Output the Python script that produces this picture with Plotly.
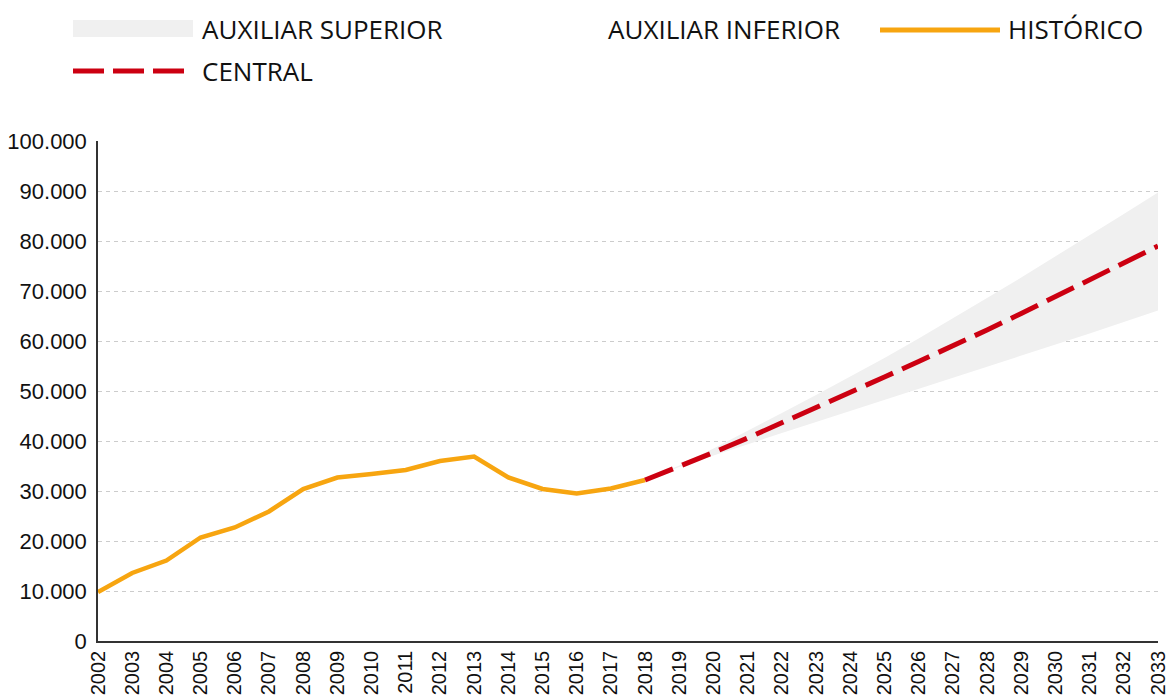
import plotly.graph_objects as go

years_hist = list(range(2002, 2019))
historico = [9800, 13600, 16100, 20700, 22700, 25900, 30400, 32700, 33400, 34200,
             36000, 36900, 32700, 30400, 29500, 30500, 32200]

years_proj = list(range(2018, 2034))
central = [32200, 34900, 37700, 40600, 43600, 46600, 49700, 52800, 55900, 59000,
           62200, 65500, 68900, 72200, 75600, 79000]
aux_superior = [32200, 35100, 38500, 42000, 45600, 49200, 52900, 56600, 60500, 64500,
                68600, 72700, 76900, 81100, 85400, 89700]
aux_inferior = [32200, 34800, 37100, 39400, 41600, 43800, 46000, 48200, 50400, 52600,
                54800, 57000, 59300, 61500, 63800, 66100]

y_ticks = list(range(0, 100001, 10000))
x_ticks = list(range(2002, 2034))

ORANGE = "#F7A510"
RED = "#CC0011"
BAND = "#F0F0F0"

fig = go.Figure()
fig.add_trace(go.Scatter(x=years_proj, y=aux_inferior, mode="lines", name="AUXILIAR INFERIOR",
                         line=dict(width=0, color=BAND), hoverinfo="skip"))
fig.add_trace(go.Scatter(x=years_proj, y=aux_superior, mode="lines", name="AUXILIAR SUPERIOR",
                         line=dict(width=0, color=BAND), fill="tonexty", fillcolor=BAND))
fig.add_trace(go.Scatter(x=years_hist, y=historico, mode="lines", name="HISTÓRICO",
                         line=dict(width=4.5, color=ORANGE)))
fig.add_trace(go.Scatter(x=years_proj, y=central, mode="lines", name="CENTRAL",
                         line=dict(width=5, color=RED, dash="30px,10px")))

W, H = 1168, 695
L, R, T, B = 98, 10, 141, 54
pw, ph = W - L - R, H - T - B


def px(x):
    return (x - L) / pw


def py(y):
    return (H - B - y) / ph


LEG_FONT = dict(family="Open Sans", size=26, color="#111111")
shapes = [
    dict(type="rect", xref="paper", yref="paper", x0=px(73), x1=px(193), y0=py(37), y1=py(20),
         fillcolor=BAND, line=dict(width=0)),
    dict(type="line", xref="paper", yref="paper", x0=px(880), x1=px(1000), y0=py(30), y1=py(30),
         line=dict(color=ORANGE, width=5)),
    dict(type="line", xref="paper", yref="paper", x0=px(73), x1=px(193), y0=py(71), y1=py(71),
         line=dict(color=RED, width=5, dash="31px,9px")),
]
annotations = [
    dict(text="AUXILIAR SUPERIOR", x=px(200), y=py(29)),
    dict(text="AUXILIAR INFERIOR", x=px(606), y=py(29)),
    dict(text="HISTÓRICO", x=px(1006), y=py(29)),
    dict(text="CENTRAL", x=px(200), y=py(71)),
]
for a in annotations:
    a.update(xref="paper", yref="paper", xanchor="left", yanchor="middle", showarrow=False,
             font=LEG_FONT)

fig.update_layout(
    width=W, height=H,
    margin=dict(l=L, r=R, t=T, b=B),
    plot_bgcolor="white", paper_bgcolor="white",
    showlegend=False,
    separators=",.",
    shapes=shapes,
    annotations=annotations,
    font=dict(family="Liberation Sans", size=22, color="#111111"),
)
fig.update_xaxes(
    range=[2002, 2033], tickmode="array", tickvals=x_ticks, ticktext=[str(v) for v in x_ticks],
    tickangle=-90, showgrid=False, zeroline=False, showline=True, linecolor="#333333",
    linewidth=1.5, ticks="", tickfont=dict(size=20), automargin=False,
    ticklabeloverflow="allow",
)
fig.update_yaxes(
    range=[0, 100000], tickmode="array", tickvals=y_ticks, tickformat=",d",
    showgrid=True, gridcolor="#CCCCCC", griddash="4px,4px", gridwidth=1,
    zeroline=False, showline=True, linecolor="#333333", linewidth=1.5,
    ticks="outside", ticklen=5, tickcolor="rgba(0,0,0,0)", tickfont=dict(size=22),
    automargin=False, ticklabeloverflow="allow",
)

fig.write_html(
    "out.html",
    config={"displayModeBar": False},
    post_script="document.body.style.margin='0';document.body.style.overflow='hidden';",
)
